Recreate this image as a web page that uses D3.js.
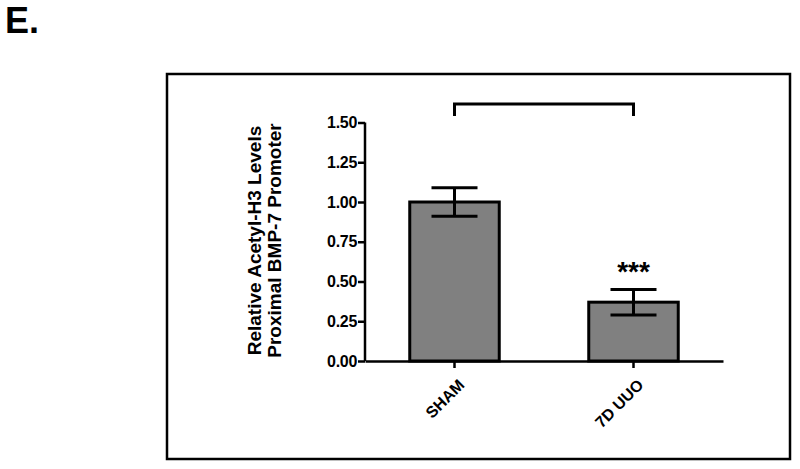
<!DOCTYPE html>
<html>
<head>
<meta charset="utf-8">
<script src="https://cdn.jsdelivr.net/npm/d3@7"></script>
<style>
  body { margin: 0; background: #fff; }
  svg { display: block; }
  text { font-family: "Liberation Sans", Arial, sans-serif; font-weight: bold; }
</style>
</head>
<body>
<svg id="chart" width="800" height="469"></svg>
<script>
// values
let groups = ["SHAM", "7D UUO"];
let means = [1.0, 0.37];
let sems = [0.09, 0.08];
let yTicks = [0, 0.25, 0.5, 0.75, 1.0, 1.25, 1.5];
let yTitle = ["Relative Acetyl-H3 Levels", "Proximal BMP-7 Promoter"];

let svg = d3.select("#chart");

// panel letter
svg.append("text")
  .attr("x", 5)
  .attr("y", 33)
  .style("font-size", "36px")
  .text("E.");

// outer frame
svg.append("rect")
  .attr("x", 167)
  .attr("y", 74)
  .attr("width", 623)
  .attr("height", 385)
  .attr("fill", "none")
  .attr("stroke", "#000")
  .attr("stroke-width", 2.5);

let x = d3.scaleBand()
  .domain(groups)
  .range([365, 723])
  .paddingInner(0.5)
  .paddingOuter(0.25);

let y = d3.scaleLinear()
  .domain([0, 1.5])
  .range([361, 122.5]);

// bars
svg.selectAll(".bar")
  .data(groups)
  .enter()
  .append("rect")
  .attr("class", "bar")
  .attr("x", (d) => x(d))
  .attr("width", x.bandwidth())
  .attr("y", (d, i) => y(means[i]))
  .attr("height", (d, i) => y(0) - y(means[i]))
  .attr("fill", "#808080")
  .attr("stroke", "#000")
  .attr("stroke-width", 3);

// error bars
let capHalf = 23;
groups.forEach((g, i) => {
  let cx = x(g) + x.bandwidth() / 2;
  let top = y(means[i] + sems[i]);
  let bot = y(means[i] - sems[i]);
  let eb = svg.append("g")
    .attr("stroke", "#000")
    .attr("stroke-width", 3);
  eb.append("line").attr("x1", cx).attr("x2", cx).attr("y1", top).attr("y2", bot);
  eb.append("line").attr("x1", cx - capHalf).attr("x2", cx + capHalf).attr("y1", top).attr("y2", top);
  eb.append("line").attr("x1", cx - capHalf).attr("x2", cx + capHalf).attr("y1", bot).attr("y2", bot);
});

// y axis
let yAxis = svg.append("g")
  .attr("transform", "translate(365,0)")
  .call(d3.axisLeft(y).tickValues(yTicks).tickFormat(d3.format(".2f")).tickSize(7).tickPadding(1));
yAxis.select(".domain").attr("stroke-width", 2.5).attr("d", `M0,${y(1.5)}V${y(0)}`);
yAxis.selectAll(".tick line").attr("stroke-width", 2.5);
yAxis.selectAll(".tick text")
  .style("font-size", "16px")
  .style("font-weight", "bold")
  .attr("fill", "#000")
  .attr("letter-spacing", "-0.3px");

// x axis
let xAxis = svg.append("g")
  .attr("transform", `translate(0,${y(0)})`)
  .call(d3.axisBottom(x).tickSize(7).tickSizeOuter(0));
xAxis.select(".domain").attr("stroke-width", 2.5);
xAxis.selectAll(".tick line").attr("stroke-width", 2.5);
xAxis.selectAll(".tick text")
  .style("font-size", "16px")
  .style("font-weight", "bold")
  .attr("fill", "#000")
  .attr("text-anchor", "end")
  .attr("y", 0)
  .attr("dy", 0)
  .attr("transform", "translate(11,25) rotate(-45)");

// y axis title, two lines
let titleG = svg.append("g")
  .attr("transform", `translate(261,240.5) rotate(-90)`);
titleG.selectAll("text")
  .data(yTitle)
  .enter()
  .append("text")
  .attr("x", 0)
  .attr("y", (d, i) => i * 20)
  .attr("text-anchor", "middle")
  .style("font-size", "19px")
  .text((d) => d);

// significance bracket
let c0 = x(groups[0]) + x.bandwidth() / 2;
let c1 = x(groups[1]) + x.bandwidth() / 2;
svg.append("path")
  .attr("d", `M${c0},116V104H${c1}V116`)
  .attr("fill", "none")
  .attr("stroke", "#000")
  .attr("stroke-width", 3);

// stars
svg.append("text")
  .attr("x", c1)
  .attr("y", y(means[1] + sems[1]) - 8)
  .attr("text-anchor", "middle")
  .style("font-size", "28px")
  .text("***");
</script>
</body>
</html>
